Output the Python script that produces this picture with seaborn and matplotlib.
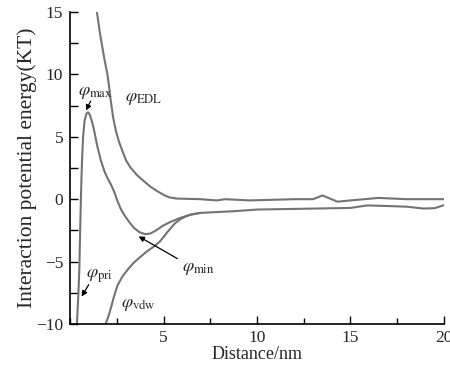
import numpy as np
import pandas as pd
import matplotlib
matplotlib.use('Agg')
import matplotlib.pyplot as plt
import seaborn as sns
from matplotlib.ticker import MultipleLocator

# curves (distance in nm, energy in KT)
total_x = [0.37, 0.45, 0.50, 0.55, 0.59, 0.64, 0.70, 0.78, 0.88, 0.96, 1.05, 1.18, 1.29, 1.45,
           1.65, 1.85, 2.0, 2.18, 2.36, 2.54, 2.72, 2.89, 3.15, 3.42, 3.72, 4.02, 4.3, 4.6,
           5.0, 5.4, 5.9, 6.44, 6.97, 8.0, 8.7, 10.0, 12.0, 15.0, 15.9, 17.0, 18.0, 18.9,
           19.5, 20.0]
total_y = [-10.0, -7.5, -5.5, -2.0, 0.5, 3.0, 5.0, 6.3, 6.85, 6.96, 6.8, 6.2, 5.5, 4.3,
           3.1, 2.2, 1.7, 1.2, 0.6, -0.16, -0.8, -1.24, -1.8, -2.3, -2.65, -2.8, -2.75, -2.5,
           -2.1, -1.8, -1.5, -1.24, -1.1, -1.02, -0.97, -0.83, -0.78, -0.7, -0.5, -0.55, -0.6,
           -0.75, -0.72, -0.48]

edl_x = [1.42, 1.6, 1.83, 2.0, 2.09, 2.18, 2.3, 2.45, 2.62, 2.8, 3.0, 3.24, 3.6, 3.95,
         4.3, 4.66, 5.0, 5.3, 5.7, 6.97, 7.86, 8.3, 9.6, 12.0, 13.0, 13.5, 14.3, 15.0,
         16.5, 18.0, 20.0]
edl_y = [15.2, 13.3, 11.3, 10.0, 9.0, 7.9, 6.6, 5.48, 4.6, 3.87, 3.1, 2.52, 1.9, 1.45,
         1.0, 0.65, 0.35, 0.15, 0.05, 0.0, -0.1, 0.0, -0.1, 0.0, 0.0, 0.3, -0.2, -0.1,
         0.1, 0.0, 0.0]

vdw_x = [1.91, 2.05, 2.18, 2.35, 2.54, 2.8, 3.07, 3.4, 3.78, 4.1, 4.48, 4.8, 5.02,
         5.2, 5.4, 5.6, 5.9, 6.2, 6.44, 6.97]
vdw_y = [-9.97, -9.4, -8.76, -7.8, -6.9, -6.2, -5.67, -5.1, -4.6, -4.2, -3.8, -3.4, -3.0,
         -2.65, -2.3, -1.95, -1.6, -1.38, -1.24, -1.1]

x_ticks = [5, 10, 15, 20]
y_ticks = [-10, -5, 0, 5, 10, 15]

sns.set_style('ticks')
plt.rcParams['font.family'] = ['Liberation Serif', 'DejaVu Serif']
plt.rcParams['mathtext.fontset'] = 'stix'

fig = plt.figure(figsize=(4.5, 3.65), dpi=100)
ax = fig.add_axes([0.1556, 0.1123, 0.831, 0.855])

line_color = '#737373'
for xs, ys in [(total_x, total_y), (edl_x, edl_y), (vdw_x, vdw_y)]:
    df = pd.DataFrame({'x': xs, 'y': ys})
    sns.lineplot(data=df, x='x', y='y', ax=ax, color=line_color, lw=1.5, sort=False)

ax.set_xlim(0, 20)
ax.set_ylim(-10, 15)
ax.set_xticks(x_ticks)
ax.set_yticks(y_ticks)
ax.xaxis.set_minor_locator(MultipleLocator(2.5))
ax.yaxis.set_minor_locator(MultipleLocator(2.5))
ax.tick_params(axis='both', which='both', direction='in', labelsize=12.5, width=1, color='black')
ax.tick_params(axis='x', which='major', length=6, pad=4)
ax.tick_params(axis='x', which='minor', length=4)
ax.tick_params(axis='y', which='both', length=6, pad=5)
sns.despine(ax=ax)
for sp in ['left', 'bottom']:
    ax.spines[sp].set_linewidth(1.2)
    ax.spines[sp].set_color('black')

ax.set_xlabel('Distance/nm', fontsize=13, labelpad=0)
ax.set_ylabel('Interaction potential energy(KT)', fontsize=15.5, labelpad=-1)

# curve labels and arrows
txt = dict(fontsize=13, ha='center', va='center')
ax.text(1.35, 8.55, r'$\varphi_{\rm max}$', **txt)
ax.text(3.95, 8.06, r'$\varphi_{\rm EDL}$', **txt)
ax.text(6.85, -5.55, r'$\varphi_{\rm min}$', **txt)
ax.text(1.55, -6.2, r'$\varphi_{\rm pri}$', **txt)
ax.text(3.65, -8.45, r'$\varphi_{\rm vdw}$', **txt)

arw = dict(arrowstyle='-|>', color='black', lw=0.9, mutation_scale=8, shrinkA=0, shrinkB=0)
ax.annotate('', xy=(0.85, 7.1), xytext=(1.1, 7.85), arrowprops=arw)
ax.annotate('', xy=(3.67, -2.98), xytext=(5.74, -4.76), arrowprops=arw)
ax.annotate('', xy=(0.62, -7.8), xytext=(1.0, -6.85), arrowprops=arw)

fig.savefig('out.png', dpi=100)
